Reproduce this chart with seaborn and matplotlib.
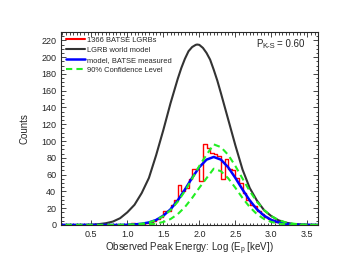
import numpy as np
import pandas as pd
import matplotlib.pyplot as plt
import seaborn as sns
from matplotlib.ticker import MultipleLocator
from matplotlib.lines import Line2D

# --- Data ---
# curve grid, log(Ep)
x_grid = [0.0, 0.1, 0.2, 0.3, 0.4, 0.5, 0.6, 0.7, 0.8, 0.9, 1.0, 1.1, 1.2, 1.3,
          1.4, 1.5, 1.6, 1.7, 1.8, 1.9, 2.0, 2.1, 2.2, 2.3, 2.4, 2.5, 2.6, 2.7,
          2.8, 2.9, 3.0, 3.1, 3.2, 3.3, 3.4, 3.5, 3.6, 3.7]

# LGRB world model (peak near 1.97)
world_x = [0.0, 0.1, 0.2, 0.3, 0.4, 0.5, 0.6, 0.7, 0.8, 0.9, 1.0, 1.1, 1.2, 1.3,
           1.4, 1.5, 1.6, 1.7, 1.75, 1.8, 1.85, 1.9, 1.95, 1.97, 2.0, 2.05, 2.1,
           2.15, 2.2, 2.25, 2.3, 2.4, 2.5, 2.6, 2.7, 2.8, 2.9, 3.0, 3.1, 3.2,
           3.3, 3.4, 3.5, 3.6, 3.7]
world_y = [0, 0, 0, 0, 0.1, 0.3, 0.9, 2, 4, 8, 15, 24, 38, 56,
           83, 113, 145, 174, 187, 198, 207, 212, 214.6, 215, 214.6, 211, 205,
           197, 185, 172, 157, 126, 95, 66, 44, 29, 17.5, 10.5, 5.5, 2.8,
           1.2, 0.5, 0.2, 0, 0]

# model, BATSE measured
model_y = [0, 0, 0, 0, 0, 0, 0, 0, 0, 0, 0.2, 0.6, 1.4, 3.0,
           5.9, 11, 18.6, 29.2, 42.2, 56.1, 68.8, 77.8, 81, 77.8, 68.8, 56.1, 42.2, 29.2,
           18.6, 11, 5.9, 3.0, 1.4, 0.6, 0.2, 0.1, 0, 0]

# 90% confidence band
upper_y = [0, 0, 0, 0, 0, 0, 0, 0, 0, 0.1, 0.3, 0.7, 1.5, 3.0,
           5.8, 10.5, 17.6, 27.6, 40.4, 55.2, 70.3, 83.6, 96, 92.7, 83.6, 70.3, 55.2, 40.4,
           27.6, 17.6, 10.5, 5.8, 3.0, 1.5, 0.7, 0.3, 0.1, 0]
lower_y = [0, 0, 0, 0, 0, 0, 0, 0, 0, 0, 0, 0.1, 0.3, 0.7,
           1.6, 3.5, 7.0, 12.8, 21.3, 32.1, 44.3, 55.7, 67, 64, 55.7, 44.3, 32.1, 21.3,
           12.8, 7.0, 3.5, 1.6, 0.7, 0.3, 0.1, 0, 0, 0]

# 1366 BATSE LGRBs histogram, bins of 0.05 starting at 1.00
hist_start = 1.00
hist_width = 0.05
hist_counts = [0, 2, 1, 0, 1, 2, 3, 5, 7, 10,
               17, 17, 24, 30, 47, 41, 44, 55, 67, 67,
               52, 97, 92, 86, 84, 82, 55, 79, 67, 66,
               56, 50, 38, 30, 24, 22, 17, 13, 10, 7,
               6, 4, 3, 2, 1, 1, 0, 1]

x_ticks = [0.5, 1.0, 1.5, 2.0, 2.5, 3.0, 3.5]
y_ticks = list(range(0, 221, 20))

# --- Setup ---
sns.set_style("ticks")
plt.rcParams['font.family'] = ['Liberation Sans', 'DejaVu Sans']
plt.rcParams['font.size'] = 6.5

fig = plt.figure(figsize=(3.41, 2.64), dpi=100)
ax = fig.add_axes([0.179, 0.148, 0.754, 0.731])

edges = [round(hist_start + hist_width * i, 3) for i in range(len(hist_counts) + 1)]
centers = [e + hist_width / 2 for e in edges[:-1]]
df_hist = pd.DataFrame({'x': centers, 'n': hist_counts})

sns.histplot(data=df_hist, x='x', weights='n', bins=edges, element='step',
             fill=False, color='red', linewidth=1.0, ax=ax)
sns.lineplot(x=world_x, y=world_y, color='#333333', linewidth=1.5, ax=ax)
sns.lineplot(x=x_grid, y=model_y, color='blue', linewidth=1.8, ax=ax)
sns.lineplot(x=x_grid, y=upper_y, color='#22ee22', linewidth=1.5, ax=ax,
             linestyle=(0, (3, 2)))
sns.lineplot(x=x_grid, y=lower_y, color='#22ee22', linewidth=1.5, ax=ax,
             linestyle=(0, (3, 2)))

ax.set_xlim(0.08, 3.65)
ax.set_ylim(0, 230)
ax.set_xticks(x_ticks)
ax.set_yticks(y_ticks)
ax.xaxis.set_minor_locator(MultipleLocator(0.05))
ax.yaxis.set_minor_locator(MultipleLocator(5))
ax.tick_params(which='both', direction='in', top=True, right=True,
               labelsize=6.5, width=0.6)
ax.tick_params(which='major', length=3.5)
ax.tick_params(which='minor', length=1.8)
for sp in ax.spines.values():
    sp.set_linewidth(0.8)

ax.set_xlabel('Observed Peak Energy: Log (E$_\\mathregular{p}$ [keV])', fontsize=7,
              labelpad=1.5)
ax.set_ylabel('Counts', fontsize=7, labelpad=8)

# P_K-S label
ax.text(0.945, 0.94, '= 0.60', transform=ax.transAxes,
        ha='right', va='center', fontsize=7)
ax.annotate('K-S', xy=(0.945, 0.94), xycoords='axes fraction',
            xytext=(-21, -2.5), textcoords='offset points',
            ha='right', va='center', fontsize=5.5)
ax.annotate('P', xy=(0.945, 0.94), xycoords='axes fraction',
            xytext=(-30, 0), textcoords='offset points',
            ha='right', va='center', fontsize=7)

handles = [Line2D([], [], color='red', lw=1.5),
           Line2D([], [], color='#333333', lw=1.5),
           Line2D([], [], color='blue', lw=1.8),
           Line2D([], [], color='#22ee22', lw=1.5, linestyle=(0, (3, 2)))]
labels = ['1366 BATSE LGRBs', 'LGRB world model', 'model, BATSE measured',
          '90% Confidence Level']
ax.legend(handles, labels, loc='upper left', frameon=False, fontsize=5.4,
          handlelength=2.6, handletextpad=0.25, labelspacing=0.35,
          borderaxespad=0.45, borderpad=0.2)

fig.savefig('out.png', dpi=100)
